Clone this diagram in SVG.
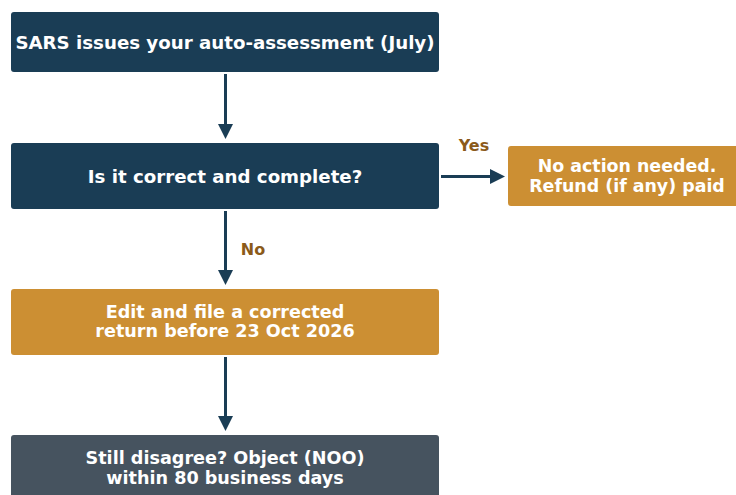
<svg xmlns="http://www.w3.org/2000/svg" width="736" height="495" viewBox="0 0 736 495">
<style>
.box{stroke:none}
.navy{fill:#1a3d55}
.orange{fill:#cc8f33}
.gray{fill:#46535f}
.t{font-family:"DejaVu Sans",sans-serif;font-weight:bold;font-size:18.2px;fill:#ffffff;text-anchor:middle;dominant-baseline:central}
.s{font-size:17.6px}
.r{font-size:17.4px}
.lbl{font-family:"DejaVu Sans",sans-serif;font-weight:bold;font-size:16px;fill:#8b5a1a;text-anchor:middle;dominant-baseline:central}
.c{stroke:#1a3d55;stroke-width:3;fill:none;marker-end:url(#ah)}
</style>
<defs>
<marker id="ah" markerWidth="5" markerHeight="5" refX="4" refY="2.5" orient="auto" markerUnits="strokeWidth">
<path d="M0,0 L5,2.5 L0,5 Z" fill="#1a3d55"/>
</marker>
</defs>
<rect width="736" height="495" fill="#ffffff"/>
<g id="connectors">
<line class="c" x1="225.5" y1="74" x2="225.5" y2="136"/>
<line class="c" x1="225.5" y1="211" x2="225.5" y2="282"/>
<line class="c" x1="225.5" y1="357" x2="225.5" y2="428"/>
<line class="c" x1="441" y1="176.5" x2="502" y2="176.5"/>
<text class="lbl" x="474" y="145">Yes</text>
<text class="lbl" x="253" y="249">No</text>
</g>
<g id="n1">
<rect class="box navy" x="11" y="12" width="428" height="60" rx="3"/>
<text class="t" x="225" y="42">SARS issues your auto-assessment (July)</text>
</g>
<g id="n2">
<rect class="box navy" x="11" y="143" width="428" height="66" rx="3"/>
<text class="t" x="225" y="176">Is it correct and complete?</text>
</g>
<g id="n3">
<rect class="box orange" x="508" y="146" width="240" height="60" rx="3"/>
<text class="t r" x="627" y="166">No action needed.</text>
<text class="t r" x="627" y="186">Refund (if any) paid</text>
</g>
<g id="n4">
<rect class="box orange" x="11" y="289" width="428" height="66" rx="3"/>
<text class="t s" x="225" y="312">Edit and file a corrected</text>
<text class="t s" x="225" y="331">return before 23 Oct 2026</text>
</g>
<g id="n5">
<rect class="box gray" x="11" y="435" width="428" height="66" rx="3"/>
<text class="t s" x="225" y="458">Still disagree? Object (NOO)</text>
<text class="t s" x="225" y="478">within 80 business days</text>
</g>
</svg>
